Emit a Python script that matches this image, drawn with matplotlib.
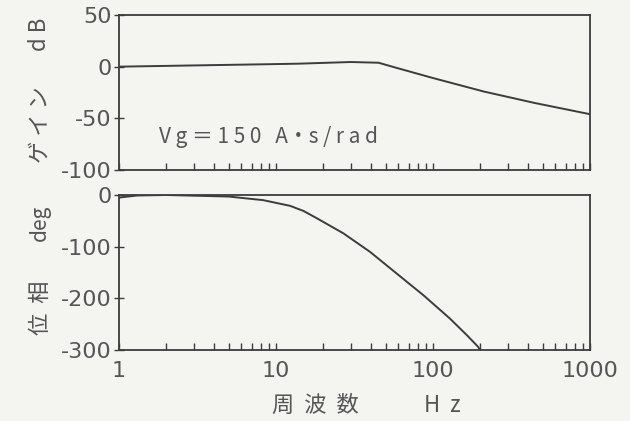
import matplotlib
matplotlib.use("Agg")
import matplotlib.pyplot as plt
import numpy as np
from matplotlib.ticker import LogLocator, FixedLocator, NullFormatter

plt.rcParams['font.family'] = ['Noto Sans CJK JP', 'DejaVu Sans']

# Gain curve (Hz, dB)
gain_freq = [1, 3, 10, 14, 30, 45, 59, 100, 210, 440, 1000]
gain_db = [0, 1.2, 2.5, 2.9, 4.5, 3.8, -1.3, -11, -24, -35, -46]

# Phase curve (Hz, deg)
phase_freq = [1, 1.3, 2, 5, 8.3, 12.3, 15, 18.2, 26.8, 39.7, 58.7, 86.9,
              128, 164, 194, 199]
phase_deg = [-5, -1, 0, -3, -10, -21, -31, -45, -74, -110, -152, -194,
             -239, -271, -294, -300]

x_ticks = [1, 10, 100, 1000]
x_labels = ["1", "10", "100", "1000"]
gain_ticks = [50, 0, -50, -100]
phase_ticks = [0, -100, -200, -300]

bg = "#f4f4f1"
ink = "#3c3c3c"
txt = "#555555"
num_font = ['Liberation Sans Narrow', 'DejaVu Sans']

W, H = 630, 421
fig = plt.figure(figsize=(W / 100, H / 100), dpi=100, facecolor=bg)


def make_axes(top_px, bottom_px):
    left, right = 119, 590
    return fig.add_axes([left / W, (H - bottom_px) / H,
                         (right - left) / W, (bottom_px - top_px) / H],
                        facecolor=bg)


ax1 = make_axes(15, 170)
ax2 = make_axes(195, 350)

for ax in (ax1, ax2):
    ax.set_xscale("log")
    ax.set_xlim(1, 1000)
    for s in ax.spines.values():
        s.set_color(ink)
        s.set_linewidth(1.3)
    ax.xaxis.set_major_locator(FixedLocator(x_ticks))
    ax.xaxis.set_minor_locator(LogLocator(base=10, subs=np.arange(2, 10)))
    ax.xaxis.set_minor_formatter(NullFormatter())
    ax.tick_params(axis="x", which="both", direction="in", length=5,
                   width=1.0, color=ink, top=False)
    ax.tick_params(axis="y", which="both", direction="inout", length=7,
                   width=1.0, color=ink, right=False, pad=2)

ax1.plot(gain_freq, gain_db, color=ink, lw=1.4)
ax1.set_ylim(-100, 50)
ax1.set_yticks(gain_ticks)
ax1.set_yticklabels([str(v) for v in gain_ticks], family=num_font,
                    fontsize=16, color=txt)
ax1.set_xticklabels([])

ax2.plot(phase_freq, phase_deg, color=ink, lw=1.4)
ax2.set_ylim(-300, 0)
ax2.set_yticks(phase_ticks)
ax2.set_yticklabels([str(v) for v in phase_ticks], family=num_font,
                    fontsize=16, color=txt)
ax2.set_xticklabels(x_labels, family=num_font, fontsize=16, color=txt)
ax2.tick_params(axis="x", pad=8)

ax1.text(1.8, -68, "V g ＝ 1 5 0   A・s / r a d", fontsize=15, color=txt,
         va="center", ha="left")

# axis titles
fig.text(40 / W, 1 - 34 / H, "d B", rotation=90, fontsize=16,
         color=txt, ha="center", va="center")
fig.text(40 / W, 1 - 125 / H, "ゲ イ ン", rotation=90, fontsize=16,
         color=txt, ha="center", va="center")
fig.text(40 / W, 1 - 223 / H, "deg", rotation=90, fontsize=15,
         color=txt, ha="center", va="center")
fig.text(40 / W, 1 - 308 / H, "位  相", rotation=90, fontsize=16,
         color=txt, ha="center", va="center")
fig.text(315 / W, 1 - 405 / H, "周  波  数", fontsize=16,
         color=txt, ha="center", va="center")
fig.text(442 / W, 1 - 405 / H, "H  z", fontsize=16,
         color=txt, ha="center", va="center")

fig.savefig("out.png", dpi=100, facecolor=bg)
